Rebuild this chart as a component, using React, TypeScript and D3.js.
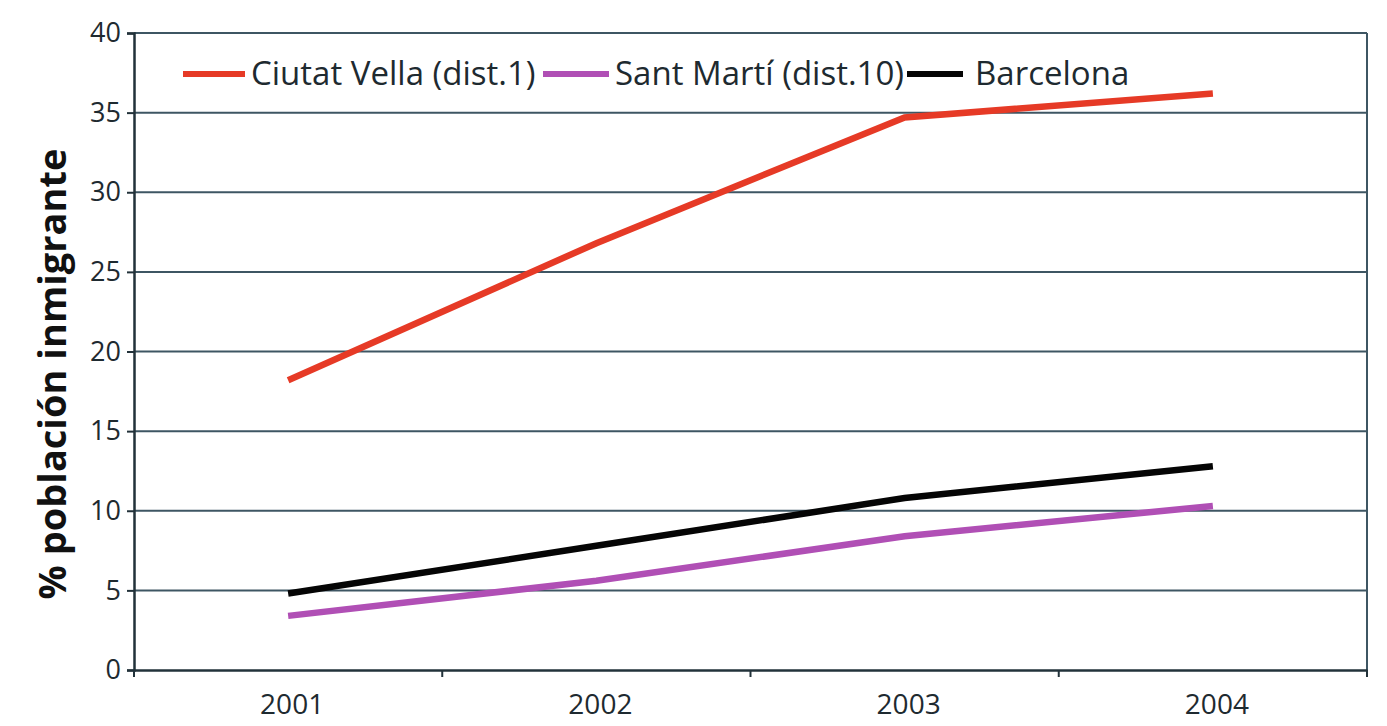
import React, { useEffect, useRef } from 'react'
import * as d3 from 'd3'

const years = ['2001', '2002', '2003', '2004']
const ciutatVella = [18.2, 26.8, 34.7, 36.2]
const santMarti = [3.4, 5.6, 8.4, 10.3]
const barcelona = [4.8, 7.8, 10.8, 12.8]
const yTicks = [0, 5, 10, 15, 20, 25, 30, 35, 40]

const seriesNames = ['Ciutat Vella (dist.1)', 'Sant Martí (dist.10)', 'Barcelona']
const seriesColors = ['#e63a26', '#b04fb5', '#050505']

export default function App() {
  const ref = useRef<SVGSVGElement>(null)

  useEffect(() => {
    const svg = d3.select(ref.current)
    svg.selectAll('*').remove()

    const left = 134, right = 1367, top = 33, bottom = 670
    const font = '"Open Sans", "Noto Sans", sans-serif'

    const x = d3.scaleBand().domain(years).range([left, right])
    const y = d3.scaleLinear().domain([0, 40]).range([bottom, top])

    // horizontal grid
    svg.append('g')
      .selectAll('line')
      .data(yTicks.filter(d => d > 0))
      .enter()
      .append('line')
      .attr('x1', left).attr('x2', right)
      .attr('y1', d => y(d)).attr('y2', d => y(d))
      .attr('stroke', '#3e5663')
      .attr('stroke-width', 2)

    // right border
    svg.append('line')
      .attr('x1', right).attr('x2', right)
      .attr('y1', top).attr('y2', bottom)
      .attr('stroke', '#3e5663').attr('stroke-width', 2)

    // y axis
    const yAxis = d3.axisLeft(y).tickValues(yTicks).tickSize(7).tickPadding(6)
    const gy = svg.append('g').attr('transform', `translate(${left},0)`).call(yAxis)
    gy.select('.domain').attr('stroke', '#22323a').attr('stroke-width', 2.5)
    gy.selectAll('.tick line').attr('stroke', '#22323a').attr('stroke-width', 2)
    gy.selectAll('.tick text')
      .attr('font-family', font).attr('font-size', 27).attr('fill', '#1e2a30')

    // x axis
    const xAxis = d3.axisBottom(x).tickSize(0).tickPadding(24)
    const gx = svg.append('g').attr('transform', `translate(0,${bottom})`).call(xAxis)
    gx.select('.domain').attr('stroke', '#22323a').attr('stroke-width', 2.5)
    gx.selectAll('.tick text')
      .attr('font-family', font).attr('font-size', 28).attr('fill', '#1e2a30')
      .attr('dx', 4)
    const bounds = years.map(d => x(d) as number).concat([right])
    svg.append('g')
      .selectAll('line')
      .data(bounds)
      .enter()
      .append('line')
      .attr('x1', d => d).attr('x2', d => d)
      .attr('y1', bottom).attr('y2', bottom + 7)
      .attr('stroke', '#22323a').attr('stroke-width', 2)

    // y title
    svg.append('text')
      .attr('transform', `translate(66,374) rotate(-90)`)
      .attr('text-anchor', 'middle')
      .attr('font-family', font).attr('font-weight', 'bold').attr('font-size', 38)
      .attr('fill', '#111')
      .text('% población inmigrante')

    // lines
    const line = d3.line<number>()
      .x((d, i) => (x(years[i]) as number) + x.bandwidth() / 2)
      .y(d => y(d))
    const allSeries = [ciutatVella, santMarti, barcelona]
    svg.append('g')
      .selectAll('path')
      .data(allSeries)
      .enter()
      .append('path')
      .attr('d', d => line(d))
      .attr('fill', 'none')
      .attr('stroke', (d, i) => seriesColors[i])
      .attr('stroke-width', 6.5)

    // legend
    const legendX = [183, 543, 907]
    const legendW = [62, 66, 56]
    const legendY = 74
    const lg = svg.append('g')
    seriesNames.forEach((name, i) => {
      lg.append('line')
        .attr('x1', legendX[i]).attr('x2', legendX[i] + legendW[i])
        .attr('y1', legendY).attr('y2', legendY)
        .attr('stroke', seriesColors[i]).attr('stroke-width', 6)
      lg.append('text')
        .attr('x', legendX[i] + legendW[i] + (i === 2 ? 12 : 6))
        .attr('y', legendY + 11)
        .attr('font-family', font).attr('font-size', 33).attr('fill', '#1e2a30')
        .text(name)
    })
  }, [])

  return (
    <svg ref={ref} width={1387} height={726} style={{ display: 'block', position: 'absolute', left: 0, top: 0, background: '#fff' }} />
  )
}
